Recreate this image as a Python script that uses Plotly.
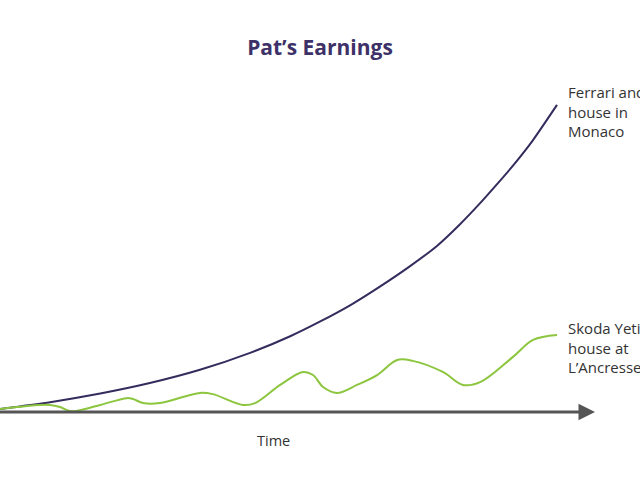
import plotly.graph_objects as go

# Time (0-100) and earnings (arbitrary units)
ferrari_t = [0, 9.0, 18.0, 26.9, 35.9, 44.9, 52.1, 57.5, 63.0, 68.2, 73.5, 78.5, 82.5, 86.2, 89.2, 92.1, 95.7, 100]
ferrari_v = [1.0, 3.2, 6.0, 9.4, 13.7, 19.2, 24.6, 29.4, 34.8, 40.7, 47.2, 54.0, 60.8, 67.8, 73.9, 80.0, 88.3, 99.7]

skoda_t = [0, 4.5, 9.0, 10.8, 12.6, 15.3, 18.0, 22.8, 23.9, 25.7, 28.7, 35.9, 38.2, 43.6, 45.8,
           50.3, 54.4, 56.2, 58.0, 60.5, 64.1, 67.7, 71.3, 74.1, 79.5, 83.1, 86.2, 92.1, 95.7, 100]
skoda_v = [1.0, 1.9, 2.3, 1.6, 0.3, 1.0, 2.3, 4.5, 4.2, 2.9, 2.9, 6.2, 5.8, 2.3, 2.9,
           8.8, 13.0, 12.0, 8.1, 6.2, 8.8, 12.0, 16.9, 16.6, 13.0, 8.8, 9.7, 17.9, 23.4, 25.0]

title_text = "Pat’s Earnings"
ferrari_label = "Ferrari and<br>house in<br>Monaco"
skoda_label = "Skoda Yeti<br>house at<br>L’Ancresse"
x_label = "Time"

PX_PER_T = 5.57
PX_PER_V = 3.08
AXIS_PX = 412
X_MAX = 640 / PX_PER_T
Y_MAX = AXIS_PX / PX_PER_V
Y_MIN = (AXIS_PX - 480) / PX_PER_V
FONT = "Open Sans, Lato, sans-serif"

fig = go.Figure()
fig.add_trace(go.Scatter(x=ferrari_t, y=ferrari_v, mode="lines",
                         line=dict(color="#352c5e", width=2, shape="spline", smoothing=0.6),
                         hoverinfo="skip", showlegend=False))
fig.add_trace(go.Scatter(x=skoda_t, y=skoda_v, mode="lines",
                         line=dict(color="#8cc63e", width=2, shape="spline", smoothing=1.0),
                         hoverinfo="skip", showlegend=False))

# x axis with arrow
fig.add_annotation(x=595 / PX_PER_T, y=0, ax=-1, ay=0, xref="x", yref="y",
                   axref="x", ayref="y", showarrow=True, arrowhead=2, arrowsize=1.1,
                   arrowwidth=3, arrowcolor="#555555", text="")

fig.add_annotation(x=566 / PX_PER_T, y=97.7, xref="x", yref="y", text=ferrari_label,
                   showarrow=False, xanchor="left", yanchor="middle", align="left",
                   font=dict(family=FONT, size=15, color="#333333"))
fig.add_annotation(x=566 / PX_PER_T, y=20.8, xref="x", yref="y", text=skoda_label,
                   showarrow=False, xanchor="left", yanchor="middle", align="left",
                   font=dict(family=FONT, size=15, color="#333333"))
fig.add_annotation(x=273 / PX_PER_T, y=(AXIS_PX - 440) / PX_PER_V, xref="x", yref="y",
                   text=x_label, showarrow=False, xanchor="center", yanchor="middle",
                   font=dict(family=FONT, size=14.5, color="#333333"))

fig.update_layout(
    width=640, height=480, autosize=False,
    margin=dict(l=0, r=0, t=0, b=0),
    paper_bgcolor="white", plot_bgcolor="white",
    title=dict(text="<b>" + title_text + "</b>", x=0.5, xanchor="center",
               y=1 - 48 / 480, yanchor="middle",
               font=dict(family=FONT, size=21, color="#3d3168")),
    xaxis=dict(visible=False, range=[0, X_MAX], fixedrange=True),
    yaxis=dict(visible=False, range=[Y_MIN, Y_MAX], fixedrange=True),
)

fig.write_html("out.html", config={"displayModeBar": False},
               post_script="document.body.style.margin='0';")
